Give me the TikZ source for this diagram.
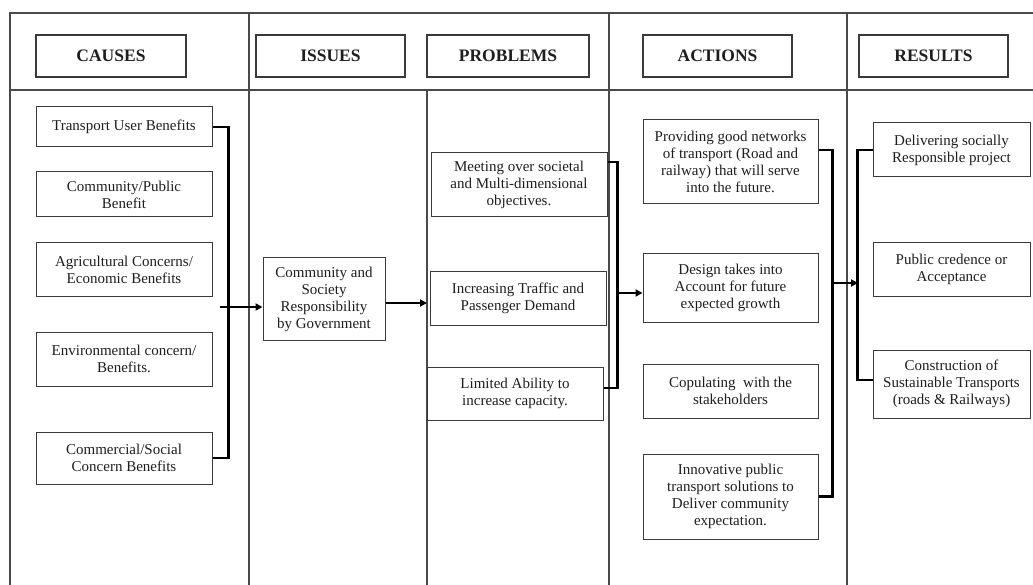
\documentclass[tikz,border=0pt]{standalone}
\usepackage{fontspec}
\setmainfont{Liberation Serif}
\usetikzlibrary{arrows.meta}
\definecolor{ink}{HTML}{1E1E1E}
\definecolor{frameline}{HTML}{4A4A4A}
\definecolor{boxline}{HTML}{3A3A3A}
\tikzset{
  gridline/.style={draw=frameline, line width=1.1pt},
  box/.style={draw=boxline, line width=1pt, rectangle, inner sep=0pt, align=center,
    text=ink, font=\fontsize{15}{17}\selectfont},
  headbox/.style={draw=boxline, line width=1.1pt, rectangle, inner sep=0pt, align=center,
    text=ink, font=\fontsize{17.5}{20}\selectfont\bfseries, minimum height=42pt},
  conn/.style={draw=black, line width=2.4pt},
  arr/.style={draw=black, line width=1.8pt, -{Triangle[length=7pt,width=7pt]}}
}
\begin{document}
\begin{tikzpicture}[x=1pt,y=-1pt]
\useasboundingbox (0,0) rectangle (1033,585);
\fill[white] (0,0) rectangle (1033,585);

% frame lines
\draw[gridline] (10,585) -- (10,13) -- (1033,13);
\draw[gridline] (10,90) -- (1033,90);
\draw[gridline] (249,13) -- (249,585);
\draw[gridline] (427,90) -- (427,585);
\draw[gridline] (609,13) -- (609,585);
\draw[gridline] (847,13) -- (847,585);

% headers
\node[headbox, minimum width=150pt] (hc) at (111,56) {CAUSES};
\node[headbox, minimum width=149pt] (hi) at (330.5,56) {ISSUES};
\node[headbox, minimum width=162pt] (hp) at (508,56) {PROBLEMS};
\node[headbox, minimum width=149pt] (ha) at (717.5,56) {ACTIONS};
\node[headbox, minimum width=149pt] (hr) at (933.5,56) {RESULTS};

% causes
\node[box, minimum width=176pt, minimum height=40pt] (c1) at (124,127) {Transport User Benefits};
\node[box, minimum width=176pt, minimum height=45pt] (c2) at (124,194.5) {Community/Public\\Benefit};
\node[box, minimum width=176pt, minimum height=53pt] (c3) at (124,269.5) {Agricultural Concerns/\\Economic Benefits};
\node[box, minimum width=176pt, minimum height=54pt] (c4) at (124,359) {Environmental concern/\\Benefits.};
\node[box, minimum width=176pt, minimum height=52pt] (c5) at (124,458) {Commercial/Social\\Concern Benefits};

% issues
\node[box, minimum width=122pt, minimum height=82pt] (i) at (324,299) {Community and\\Society\\Responsibility\\by Government};

% problems
\node[box, minimum width=176pt, minimum height=64pt] (p1) at (519,185) {Meeting over societal\\and Multi-dimensional\\objectives.};
\node[box, minimum width=176pt, minimum height=53pt] (p2) at (518,298.5) {Increasing Traffic and\\Passenger Demand};
\node[box, minimum width=176pt, minimum height=53pt] (p3) at (515,393.5) {Limited Ability to\\increase capacity.};

% actions
\node[box, minimum width=175pt, minimum height=84pt] (a1) at (730.5,162) {Providing good networks\\of transport (Road and\\railway) that will serve\\into the future.};
\node[box, minimum width=175pt, minimum height=68pt] (a2) at (730.5,288) {Design takes into\\Account for future\\expected growth};
\node[box, minimum width=175pt, minimum height=54pt] (a3) at (730.5,391) {Copulating\ \ with the\\stakeholders};
\node[box, minimum width=175pt, minimum height=85pt] (a4) at (730.5,496.5) {Innovative public\\transport solutions to\\Deliver community\\expectation.};

% results
\node[box, minimum width=157pt, minimum height=54pt] (r1) at (951.5,150) {Delivering socially\\Responsible project};
\node[box, minimum width=157pt, minimum height=53pt] (r2) at (951.5,269.5) {Public credence or\\Acceptance};
\node[box, minimum width=157pt, minimum height=68pt] (r3) at (951.5,384) {Construction of\\Sustainable Transports\\(roads \& Railways)};

% connectors
\draw[conn] (c1.east) -- ++(16,0) |- (c5.east);
\coordinate (cin) at (220,307);
\draw[arr] (cin) -- (cin -| i.west);

\coordinate (pin) at (427,303);
\draw[arr] (i.east |- pin) -- (pin);

\draw[conn] ([yshift=23pt]p1.east) -- ++(10,0) |- ([yshift=5.5pt]p3.east);
\coordinate (pb) at (617,293);
\draw[arr] (pb) -- (pb -| a2.west);

\draw[conn] ([yshift=12pt]a1.east) -- ++(14,0) |- (a4.east);
\coordinate (ab) at (832,283);
\coordinate (rin) at (858,283);
\draw[arr] (ab) -- (rin);

\draw[conn] (r1.west) -- ++(-15,0) |- ([yshift=4pt]r3.west);
\end{tikzpicture}
\end{document}
